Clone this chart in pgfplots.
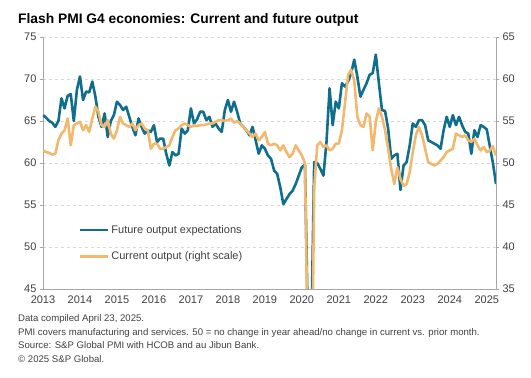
\documentclass[border=0pt]{standalone}
\usepackage{fontspec}
\setmainfont{Liberation Sans}
\usepackage{pgfplots}
\pgfplotsset{compat=1.18}
\usepackage{pgfplotstable}
\definecolor{tealc}{HTML}{0E6E8C}
\definecolor{orngc}{HTML}{F2B86E}
\definecolor{txtc}{HTML}{404040}
\definecolor{gridc}{HTML}{D9D9D9}
\definecolor{axc}{HTML}{A6A6A6}

\pgfplotstableread{
m teal orange
0 65.7 51.5
1 65.4 51.3
2 65.0 51.2
3 64.8 51.0
4 64.3 51.1
5 65.0 52.7
6 67.7 53.5
7 66.5 53.9
8 68.0 55.3
9 68.2 52.1
10 65.0 54.5
11 68.7 54.7
12 70.3 54.9
13 67.5 53.9
14 68.5 54.5
15 68.4 53.7
16 69.7 55.3
17 67.9 56.7
18 65.5 56.1
19 64.3 54.5
20 65.9 54.3
21 63.1 55.1
22 65.0 53.5
23 65.7 52.9
24 67.3 53.9
25 66.9 55.5
26 66.3 54.7
27 66.7 54.5
28 65.5 54.3
29 64.3 54.7
30 63.3 53.9
31 65.3 54.5
32 64.3 54.7
33 63.5 54.1
34 63.9 53.9
35 63.7 51.7
36 64.5 52.3
37 62.5 52.3
38 62.9 51.7
39 62.9 51.7
40 61.1 51.9
41 59.7 52.1
42 61.3 53.1
43 60.9 53.9
44 61.1 54.1
45 64.1 54.5
46 63.5 54.7
47 63.9 54.5
48 66.5 54.3
49 64.7 54.5
50 65.2 54.4
51 66.1 54.5
52 66.1 54.5
53 65.1 54.6
54 65.5 54.7
55 64.3 54.7
56 64.7 54.9
57 64.1 55.1
58 63.7 55.1
59 66.3 55.0
60 67.5 55.1
61 66.1 55.3
62 67.3 54.8
63 66.1 55.0
64 64.7 54.7
65 64.3 54.3
66 63.9 53.9
67 63.3 53.5
68 64.3 53.1
69 62.7 53.5
70 61.1 52.7
71 62.1 53.1
72 61.7 53.7
73 60.9 52.3
74 60.5 52.1
75 59.1 52.3
76 58.7 52.1
77 57.1 51.5
78 55.1 52.1
79 55.7 51.3
80 56.3 50.7
81 56.7 51.1
82 57.5 52.1
83 58.5 51.5
84 59.5 50.9
85 59.8 50.0
86 40.0 25.0
87 38.0 15.0
88 60.1 47.0
89 60.0 52.1
90 59.3 52.5
91 58.5 51.9
92 62.5 52.1
93 68.9 51.5
94 64.5 51.7
95 67.3 52.3
96 66.5 52.3
97 69.5 53.9
98 69.1 57.1
99 69.7 60.5
100 70.7 61.1
101 72.3 59.8
102 70.3 55.5
103 67.9 54.5
104 68.7 54.3
105 69.5 55.9
106 70.5 55.5
107 70.7 51.5
108 72.9 54.9
109 69.5 56.5
110 66.3 55.5
111 66.2 53.9
112 64.1 51.7
113 60.5 49.3
114 60.9 47.5
115 61.1 49.5
116 56.8 48.1
117 59.7 47.3
118 60.1 47.5
119 62.1 48.9
120 64.7 51.3
121 64.3 53.3
122 65.1 54.3
123 65.1 53.3
124 64.5 51.7
125 62.7 50.1
126 62.5 49.9
127 62.3 49.7
128 62.1 49.9
129 61.7 50.3
130 63.9 50.7
131 65.5 51.3
132 64.3 51.5
133 65.7 51.7
134 64.5 53.5
135 65.5 53.3
136 64.5 53.1
137 63.7 53.3
138 63.5 52.7
139 61.1 52.5
140 63.9 52.9
141 63.1 52.1
142 64.5 51.5
143 64.3 51.9
144 64.0 51.3
145 62.0 51.5
146 60.0 52.0
147 57.5 50.9
}\data

\pgfplotsset{
  common/.style={
    at={(43pt,89pt)}, anchor=south west,
    scale only axis, width=453pt, height=252pt,
    xmin=0, xmax=147,
    /pgf/number format/assume math mode=true,
    tick label style={font=\fontsize{11}{13}\selectfont, text=txtc},
    axis line style={axc, line width=0.6pt, -},
    every outer x axis line/.append style={-},
    every outer y axis line/.append style={-},
    tick align=outside, major tick length=3pt,
    ytick style={axc, line width=0.6pt},
    xtick style={draw=none},
  },
}

\begin{document}
\begin{tikzpicture}[x=1pt,y=1pt]
\path[use as bounding box] (0,0) rectangle (531,378);
\node[anchor=base west, inner sep=0, font=\bfseries\fontsize{13.8}{16}\selectfont] at (18,354) {Flash PMI G4 economies: Current and future output};

\begin{axis}[common,
  ymin=45, ymax=75, ytick={45,50,...,75},
  axis x line*=bottom, axis y line*=left,
  xtick={0,12,...,144},
  xticklabels={2013,2014,2015,2016,2017,2018,2019,2020,2021,2022,2023,2024,2025},
  ymajorgrids, grid style={gridc, dashed, line width=0.6pt},
]
\addplot[tealc, line width=2.6pt, line join=round] table[x=m, y=teal]{\data};
\end{axis}

\begin{axis}[common,
  ymin=35, ymax=65, ytick={35,40,...,65},
  hide x axis, axis y line*=right,
  legend style={draw=none, fill=none, at={(0.072,0.27)}, anchor=north west,
    font=\fontsize{11}{13}\selectfont, text=txtc, row sep=13pt},
  legend cell align=left,
  legend image code/.code={\draw[#1, line width=2.6pt] (0pt,0pt) -- (28pt,0pt);},
]
\addlegendimage{tealc}
\addlegendentry{Future output expectations}
\addplot[orngc, line width=2.6pt, line join=round] table[x=m, y=orange]{\data};
\addlegendentry{Current output (right scale)}
\end{axis}

\begin{scope}[every node/.style={anchor=base west, inner sep=0, font=\fontsize{9.6}{12}\selectfont, text=txtc}]
\node at (18,56.4) {Data compiled April 23, 2025.};
\node at (18,42.4) {PMI covers manufacturing and services. 50 = no change in year ahead/no change in current vs. prior month.};
\node at (18,29) {Source: S\&P Global PMI with HCOB and au Jibun Bank.};
\node at (18,15.4) {© 2025 S\&P Global.};
\end{scope}
\end{tikzpicture}
\end{document}
